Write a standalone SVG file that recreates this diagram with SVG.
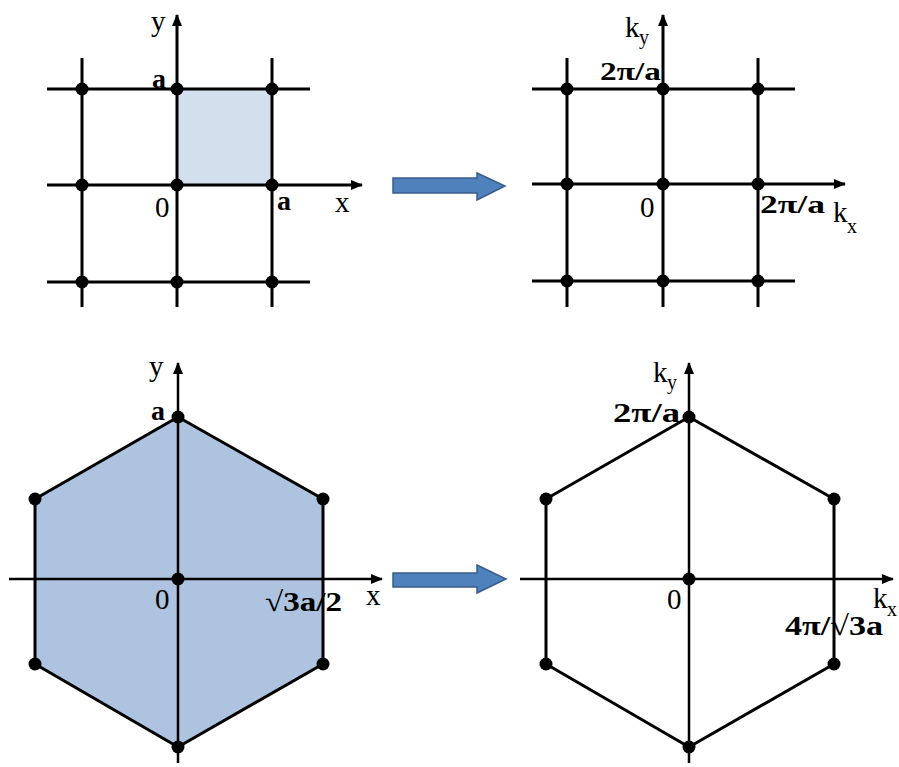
<svg xmlns="http://www.w3.org/2000/svg" width="899" height="767" viewBox="0 0 899 767">
<defs>
<style>
.ln{stroke:#000;stroke-width:3;fill:none}
.ax{stroke:#000;stroke-width:2.5;fill:none}
.hex{stroke:#000;stroke-width:3;stroke-linejoin:round}
.dot{fill:#000}
.t{font-family:'Liberation Serif','Times New Roman',serif;font-size:29px;fill:#000}
.b{font-family:'Liberation Serif','Times New Roman',serif;font-size:28px;font-weight:bold;fill:#000}
.s{font-family:'Liberation Serif','Times New Roman',serif;font-size:20px;fill:#000}
.arr{fill:#4f81bd;stroke:#385d8a;stroke-width:1.5}
</style>
<marker id="ah" viewBox="0 0 12 10" refX="11" refY="5" markerWidth="12" markerHeight="10" markerUnits="userSpaceOnUse" orient="auto">
<path d="M0,0 L12,5 L0,10 Z" fill="#000"/>
</marker>
</defs>

<g id="square-real">
<rect x="177" y="89" width="95" height="96" fill="#d3dfec"/>
<path class="ln" d="M47,89H310M47,282H310M82,58V307M272,58V307"/>
<path class="ln" d="M47,185H362" marker-end="url(#ah)"/>
<path class="ln" d="M177,307V15" marker-end="url(#ah)"/>
<g class="dot">
<circle cx="82" cy="89" r="6.5"/><circle cx="177" cy="89" r="6.5"/><circle cx="272" cy="89" r="6.5"/>
<circle cx="82" cy="185" r="6.5"/><circle cx="177" cy="185" r="6.5"/><circle cx="272" cy="185" r="6.5"/>
<circle cx="82" cy="282" r="6.5"/><circle cx="177" cy="282" r="6.5"/><circle cx="272" cy="282" r="6.5"/>
</g>
<text class="t" x="151" y="31">y</text>
<text class="b" x="152" y="88">a</text>
<text class="t" x="155" y="217">0</text>
<text class="b" x="277" y="210">a</text>
<text class="t" x="335" y="212">x</text>
</g>

<g id="square-reciprocal">
<path class="ln" d="M532,89H795M532,281H795M567,58V307M758,58V307"/>
<path class="ln" d="M532,184H845" marker-end="url(#ah)"/>
<path class="ln" d="M663,307V15" marker-end="url(#ah)"/>
<g class="dot">
<circle cx="567" cy="89" r="6.5"/><circle cx="663" cy="89" r="6.5"/><circle cx="758" cy="89" r="6.5"/>
<circle cx="567" cy="184" r="6.5"/><circle cx="663" cy="184" r="6.5"/><circle cx="758" cy="184" r="6.5"/>
<circle cx="567" cy="281" r="6.5"/><circle cx="663" cy="281" r="6.5"/><circle cx="758" cy="281" r="6.5"/>
</g>
<text class="t" x="625" y="37">k</text><text class="s" x="639" y="44">y</text>
<text class="b" x="600" y="80" style="font-size:25px" textLength="61" lengthAdjust="spacingAndGlyphs">2π/a</text>
<text class="t" x="640" y="217">0</text>
<text class="b" x="760" y="213" style="font-size:25px" textLength="65" lengthAdjust="spacingAndGlyphs">2π/a</text>
<text class="t" x="833" y="222">k</text><text class="s" x="847" y="233">x</text>
</g>

<g id="hex-real">
<polygon class="hex" points="178,417 323,499 323,664 178,747 35,664 35,499" fill="#adc3df"/>
<path class="ax" d="M9,579H382" marker-end="url(#ah)"/>
<path class="ax" d="M178,763V363" marker-end="url(#ah)"/>
<g class="dot">
<circle cx="178" cy="417" r="6.5"/><circle cx="323" cy="499" r="6.5"/><circle cx="323" cy="664" r="6.5"/>
<circle cx="178" cy="747" r="6.5"/><circle cx="35" cy="664" r="6.5"/><circle cx="35" cy="499" r="6.5"/>
<circle cx="178" cy="579" r="6.5"/>
</g>
<text class="t" x="149" y="376">y</text>
<text class="b" x="151" y="420">a</text>
<text class="t" x="155" y="609">0</text>
<text class="b" x="265" y="611" textLength="77" lengthAdjust="spacingAndGlyphs">√3a/2</text>
<text class="t" x="366" y="605">x</text>
</g>

<g id="hex-reciprocal">
<polygon class="hex" points="689,417 834,499 834,664 689,747 546,664 546,499" fill="none"/>
<path class="ax" d="M520,579H893" marker-end="url(#ah)"/>
<path class="ax" d="M689,763V363" marker-end="url(#ah)"/>
<g class="dot">
<circle cx="689" cy="417" r="6.5"/><circle cx="834" cy="499" r="6.5"/><circle cx="834" cy="664" r="6.5"/>
<circle cx="689" cy="747" r="6.5"/><circle cx="546" cy="664" r="6.5"/><circle cx="546" cy="499" r="6.5"/>
<circle cx="689" cy="579" r="6.5"/>
</g>
<text class="t" x="653" y="382">k</text><text class="s" x="667" y="389">y</text>
<text class="b" x="613" y="422" textLength="67" lengthAdjust="spacingAndGlyphs">2π/a</text>
<text class="t" x="667" y="609">0</text>
<text class="b" x="785" y="635" textLength="98" lengthAdjust="spacingAndGlyphs">4π/√3a</text>
<text class="t" x="873" y="608">k</text><text class="s" x="887" y="616">x</text>
</g>

<g id="connectors">
<polygon class="arr" points="393,178 477,178 477,173 505,186 477,200 477,193 393,193"/>
<polygon class="arr" points="393,573 477,573 477,565 506,579 477,593 477,587 393,587"/>
</g>
</svg>
